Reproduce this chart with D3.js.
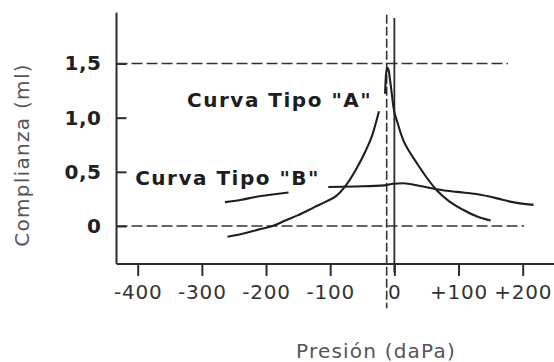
<!DOCTYPE html>
<html>
<head>
<meta charset="utf-8">
<script src="https://cdn.jsdelivr.net/npm/d3@7/dist/d3.min.js"></script>
<style>
  body { margin: 0; background: #fff; }
  svg { display: block; }
</style>
</head>
<body>
<div id="chart"></div>
<script>
// tick values + labels
const xTicks = [-400, -300, -200, -100, 0, 100, 200];
const xTickLabels = ["-400", "-300", "-200", "-100", "0", "+100", "+200"];
const yTicks = [0, 0.5, 1.0, 1.5];
const yTickLabels = ["0", "0,5", "1,0", "1,5"];

// curve A (presion daPa, complianza ml) - two pieces
const curveALeft = [[-260, -0.10], [-235, -0.07], [-210, -0.03], [-190, 0.0], [-170, 0.05], [-150, 0.10],
  [-126, 0.17], [-105, 0.23], [-90, 0.28], [-75, 0.38], [-60, 0.52], [-45, 0.69], [-35, 0.83], [-28, 0.97], [-24, 1.06]];
const curveAPeak = [[-14.5, 1.22], [-13, 1.40], [-11, 1.46], [-9, 1.44], [-7, 1.36], [-4, 1.22], [-1.5, 1.10],
  [5, 0.95], [14, 0.79], [24, 0.68], [35, 0.58], [50, 0.45], [66, 0.33], [85, 0.23], [107, 0.15], [128, 0.09], [150, 0.05]];

// curve B - two pieces
const curveBLeft = [[-264, 0.22], [-240, 0.24], [-215, 0.27], [-190, 0.29], [-165, 0.31]];
const curveBRight = [[-103, 0.36], [-60, 0.365], [-15, 0.375], [-2, 0.39], [14, 0.395], [40, 0.37], [66, 0.34],
  [97, 0.315], [128, 0.295], [160, 0.255], [180, 0.225], [217, 0.195]];

// reference lines
const hDashed = [{ y: 1.5, x0: -433, x1: 177 }, { y: 0, x0: -433, x1: 202 }];
const vDashed = { x: -12, y0: 1.95, y1: -0.76 };
const vSolid = { x: 0, y0: 1.92, y1: -0.43 };

// frame of the plot
const frame = { xMin: -433, xMax: 252, yMin: -0.35, yMax: 1.97 };

const width = 554, height = 362;
const ink = "#2b2b2b";

const svg = d3.select("#chart").append("svg")
  .attr("width", width)
  .attr("height", height);

const x = d3.scaleLinear().domain([-400, 200]).range([137.7, 522.7]);
const y = d3.scaleLinear().domain([0, 1.5]).range([226, 63.5]);

// axis lines
svg.append("line")
  .attr("x1", x(frame.xMin)).attr("x2", x(frame.xMin))
  .attr("y1", y(frame.yMax)).attr("y2", y(frame.yMin))
  .attr("stroke", ink).attr("stroke-width", 2);
svg.append("line")
  .attr("x1", x(frame.xMin)).attr("x2", x(frame.xMax))
  .attr("y1", y(frame.yMin)).attr("y2", y(frame.yMin))
  .attr("stroke", ink).attr("stroke-width", 2);

// x axis ticks
const xAxis = svg.append("g")
  .attr("transform", `translate(0, ${y(frame.yMin)})`)
  .call(d3.axisBottom(x).tickValues(xTicks).tickSize(12).tickSizeOuter(0).tickPadding(9)
    .tickFormat((d, i) => xTickLabels[i]));
xAxis.select(".domain").remove();
xAxis.selectAll(".tick line").attr("stroke", ink).attr("stroke-width", 2);
xAxis.selectAll(".tick text")
  .attr("fill", "#333")
  .style("font-family", "DejaVu Sans, Verdana, sans-serif")
  .style("font-size", "20px")
  .style("letter-spacing", "0.8px");

// y axis ticks (cross the axis)
const yAxis = svg.append("g")
  .attr("transform", `translate(${x(frame.xMin)}, 0)`)
  .call(d3.axisLeft(y).tickValues(yTicks).tickSize(7).tickSizeOuter(0).tickPadding(8)
    .tickFormat((d, i) => yTickLabels[i]));
yAxis.select(".domain").remove();
yAxis.selectAll(".tick line").attr("x2", 10).attr("stroke", ink).attr("stroke-width", 2);
yAxis.selectAll(".tick text")
  .attr("fill", "#222")
  .style("font-family", "DejaVu Sans, Verdana, sans-serif")
  .style("font-weight", "bold")
  .style("font-size", "20px")
  .style("letter-spacing", "0.5px");

// dashed reference lines
svg.selectAll(".hdash")
  .data(hDashed)
  .enter().append("line")
  .attr("class", "hdash")
  .attr("x1", d => x(d.x0)).attr("x2", d => x(d.x1))
  .attr("y1", d => y(d.y)).attr("y2", d => y(d.y))
  .attr("stroke", "#333").attr("stroke-width", 1.6)
  .attr("stroke-dasharray", "11,4");

svg.append("line")
  .attr("x1", x(vDashed.x)).attr("x2", x(vDashed.x))
  .attr("y1", y(vDashed.y0)).attr("y2", y(vDashed.y1))
  .attr("stroke", "#333").attr("stroke-width", 1.6)
  .attr("stroke-dasharray", "9,3");

svg.append("line")
  .attr("x1", x(vSolid.x)).attr("x2", x(vSolid.x))
  .attr("y1", y(vSolid.y0)).attr("y2", y(vSolid.y1))
  .attr("stroke", ink).attr("stroke-width", 1.8);

// curves
const line = d3.line()
  .x(d => x(d[0]))
  .y(d => y(d[1]))
  .curve(d3.curveMonotoneX);

[curveALeft, curveAPeak, curveBLeft, curveBRight].forEach(c => {
  svg.append("path")
    .datum(c)
    .attr("d", line)
    .attr("fill", "none")
    .attr("stroke", "#1e1e1e")
    .attr("stroke-width", 2.1);
});

// curve labels
const labelStyle = sel => sel
  .attr("fill", "#1e1e1e")
  .style("font-family", "DejaVu Sans, Verdana, sans-serif")
  .style("font-weight", "bold")
  .style("font-size", "20px")
  .style("letter-spacing", "1.5px");

svg.append("text")
  .attr("x", x(-323))
  .attr("y", y(1.10))
  .text('Curva Tipo "A"')
  .call(labelStyle);

svg.append("text")
  .attr("x", x(-404))
  .attr("y", y(0.378))
  .text('Curva Tipo "B"')
  .call(labelStyle);

// axis titles
svg.append("text")
  .attr("transform", `translate(29, 155) rotate(-90)`)
  .style("text-anchor", "middle")
  .attr("fill", "#555")
  .style("font-family", "DejaVu Sans, Verdana, sans-serif")
  .style("font-size", "20px")
  .style("letter-spacing", "1.3px")
  .text("Complianza (ml)");

svg.append("text")
  .attr("x", 376)
  .attr("y", 358)
  .style("text-anchor", "middle")
  .attr("fill", "#555")
  .style("font-family", "DejaVu Sans, Verdana, sans-serif")
  .style("font-size", "20px")
  .style("letter-spacing", "1.2px")
  .text("Presión (daPa)");
</script>
</body>
</html>
